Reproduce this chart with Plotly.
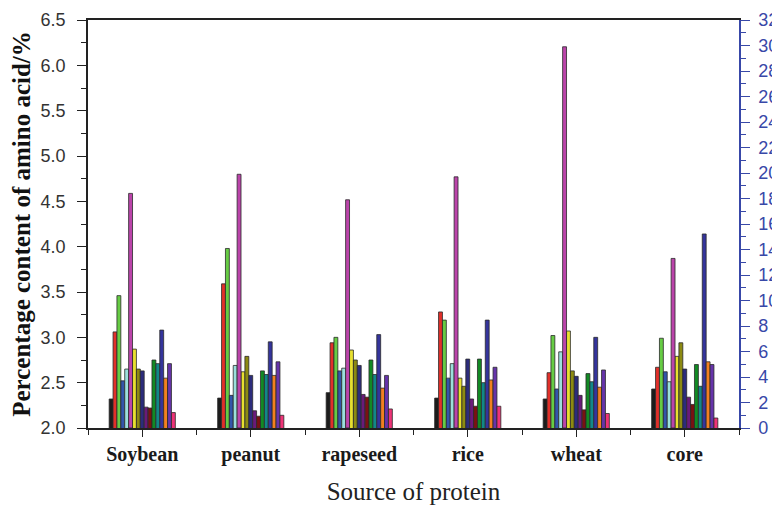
import plotly.graph_objects as go

categories = ["Soybean", "peanut", "rapeseed", "rice", "wheat", "core"]

# 17 amino-acid series (left axis, %), except s06 which is read on the right axis
s01 = [2.32, 2.33, 2.39, 2.33, 2.32, 2.43]
s02 = [3.06, 3.59, 2.94, 3.28, 2.61, 2.67]
s03 = [3.46, 3.98, 3.00, 3.19, 3.02, 2.99]
s04 = [2.52, 2.36, 2.63, 2.55, 2.43, 2.62]
s05 = [2.65, 2.69, 2.66, 2.71, 2.84, 2.51]
s06 = [18.4, 19.9, 17.9, 19.7, 29.9, 13.3]   # right axis
s07 = [2.87, 2.62, 2.86, 2.55, 3.07, 2.79]
s08 = [2.65, 2.79, 2.75, 2.46, 2.63, 2.94]
s09 = [2.63, 2.58, 2.69, 2.76, 2.57, 2.65]
s10 = [2.23, 2.19, 2.37, 2.32, 2.36, 2.34]
s11 = [2.22, 2.13, 2.34, 2.24, 2.20, 2.26]
s12 = [2.75, 2.63, 2.75, 2.76, 2.60, 2.70]
s13 = [2.71, 2.59, 2.59, 2.50, 2.51, 2.46]
s14 = [3.08, 2.95, 3.03, 3.19, 3.00, 4.14]
s15 = [2.55, 2.58, 2.44, 2.53, 2.45, 2.73]
s16 = [2.71, 2.73, 2.58, 2.67, 2.64, 2.70]
s17 = [2.17, 2.14, 2.21, 2.24, 2.16, 2.11]

series = [s01, s02, s03, s04, s05, s06, s07, s08, s09, s10, s11, s12, s13, s14, s15, s16, s17]
right_axis_series = {5}

colors = ["#1c1c1c", "#e2302a", "#66cc44", "#3355aa", "#9be0dc", "#bb44aa",
          "#e8e030", "#8c8a12", "#2c2c7c", "#6a1a7a", "#7a1212", "#128a24",
          "#128888", "#34349c", "#f28020", "#6634aa", "#ee3377"]

x_pos = list(range(1, len(categories) + 1))
group_width = 0.61
n = len(series)
w = group_width / n

fig = go.Figure()
for i, vals in enumerate(series):
    fig.add_trace(go.Bar(
        x=x_pos, y=vals,
        width=w, offset=-group_width / 2 + i * w,
        marker=dict(color=colors[i], line=dict(color="#2a2a2a", width=0.8)),
        yaxis="y2" if i in right_axis_series else "y",
        showlegend=False,
    ))

sans = "Liberation Sans, Arial, sans-serif"
serif = "Liberation Serif, Times New Roman, serif"
blue = "#3848a8"

fig.update_layout(
    template="none",
    width=772, height=501,
    margin=dict(l=80, r=41, t=12, b=81, pad=0),
    paper_bgcolor="white", plot_bgcolor="white",
    barmode="overlay",
    xaxis=dict(
        automargin=False,
        range=[0.5, 6.5], tickmode="array", tickvals=x_pos,
        ticktext=["<b>%s</b>" % c for c in categories],
        tickfont=dict(family=serif, size=20, color="#1a1a1a"),
        ticks="outside", ticklen=7, tickcolor="#222", tickwidth=1.2,
        minor=dict(ticks="outside", ticklen=5, dtick=0.5, tick0=0.5, tickcolor="#222"),
        showline=True, linecolor="#222", linewidth=1.5, mirror=True,
        showgrid=False, zeroline=False,
        title=dict(text="Source of protein", font=dict(family=serif, size=25, color="#222"), standoff=18),
    ),
    yaxis=dict(
        automargin=False, ticklabeloverflow="allow",
        range=[2.0, 6.5], dtick=0.5, tick0=2.0, tickformat=".1f",
        tickfont=dict(family=sans, size=18, color="#333"),
        ticks="outside", ticklen=9, tickcolor="#222", tickwidth=1.2,
        minor=dict(ticks="outside", ticklen=5, dtick=0.25, tickcolor="#222"),
        ticklabelstandoff=8,
        showline=True, linecolor="#222", linewidth=1.5,
        showgrid=False, zeroline=False,
        title=dict(text="<b>Percentage content of amino acid/%</b>",
                   font=dict(family=serif, size=25, color="#111"), standoff=11),
    ),
    yaxis2=dict(
        automargin=False, ticklabeloverflow="allow",
        range=[0, 32], dtick=2, tick0=0, overlaying="y", side="right",
        tickfont=dict(family=sans, size=18, color=blue),
        ticks="outside", ticklen=9, tickcolor=blue, tickwidth=1.2,
        minor=dict(ticks="outside", ticklen=5, dtick=1, tickcolor=blue),
        ticklabelstandoff=5,
        showline=True, linecolor=blue, linewidth=1.5,
        showgrid=False, zeroline=False,
    ),
)

fig.write_html("out.html")
